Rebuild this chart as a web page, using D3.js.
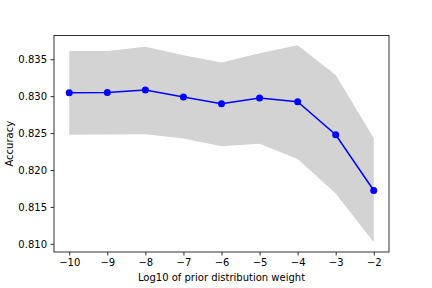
<!DOCTYPE html>
<html>
<head>
<meta charset="utf-8">
<script src="https://cdn.jsdelivr.net/npm/d3@7"></script>
<style>
  html, body { margin: 0; padding: 0; background: #fff; }
  svg { display: block; font-family: "DejaVu Sans", sans-serif; }
</style>
</head>
<body>
<div id="chart"></div>
<script>
// ── Data ──
const logWeights = [-10, -9, -8, -7, -6, -5, -4, -3, -2];
const meanAcc  = [0.83046, 0.83050, 0.83083, 0.82989, 0.82898, 0.82975, 0.82925, 0.82477, 0.81723];
const upperAcc = [0.83612, 0.83612, 0.83670, 0.83554, 0.83454, 0.83581, 0.83688, 0.83285, 0.82431];
const lowerAcc = [0.82477, 0.82480, 0.82485, 0.82427, 0.82320, 0.82356, 0.82149, 0.81683, 0.81023];
const yTicks = [0.810, 0.815, 0.820, 0.825, 0.830, 0.835];

const W = 432, H = 288;
const margin = { top: 35.5, right: 43, bottom: 36, left: 54 };
const width  = W - margin.left - margin.right;
const height = H - margin.top - margin.bottom;

const data = logWeights.map((w, i) => ({
  w, mean: meanAcc[i], hi: upperAcc[i], lo: lowerAcc[i]
}));

const svg = d3.select('#chart')
  .append('svg')
  .attr('width', W)
  .attr('height', H)
  .append('g')
  .attr('transform', `translate(${margin.left},${margin.top})`);

// matplotlib-style 5% margins
const xExt = d3.extent(logWeights);
const xPad = (xExt[1] - xExt[0]) * 0.05;
const yMin = d3.min(lowerAcc), yMax = d3.max(upperAcc);
const yPad = (yMax - yMin) * 0.05;

const x = d3.scaleLinear()
  .domain([xExt[0] - xPad, xExt[1] + xPad])
  .range([0, width]);

const y = d3.scaleLinear()
  .domain([yMin - yPad, yMax + yPad])
  .range([height, 0]);

// Band
svg.append('path')
  .datum(data)
  .attr('fill', '#d3d3d3')
  .attr('d', d3.area()
    .x(d => x(d.w))
    .y0(d => y(d.lo))
    .y1(d => y(d.hi))
  );

// Line
svg.append('path')
  .datum(data)
  .attr('fill', 'none')
  .attr('stroke', '#0000ff')
  .attr('stroke-width', 1.5)
  .attr('d', d3.line()
    .x(d => x(d.w))
    .y(d => y(d.mean))
  );

// Dots
svg.selectAll('circle')
  .data(data)
  .enter()
  .append('circle')
  .attr('cx', d => x(d.w))
  .attr('cy', d => y(d.mean))
  .attr('r', 3.5)
  .attr('fill', '#0000ff');

// Axes
const xAxis = svg.append('g')
  .attr('transform', `translate(0,${height})`)
  .call(d3.axisBottom(x).tickValues(logWeights).tickFormat(d3.format('d'))
    .tickSize(3.5).tickPadding(3.5));

const yAxis = svg.append('g')
  .call(d3.axisLeft(y).tickValues(yTicks).tickFormat(d3.format('.3f'))
    .tickSize(3.5).tickPadding(3.5));

[xAxis, yAxis].forEach(g => {
  g.select('.domain').remove();
  g.selectAll('line').attr('stroke', '#000').attr('stroke-width', 0.8);
  g.selectAll('text').attr('fill', '#000').style('font-size', '10px')
    .style('font-family', '"DejaVu Sans", sans-serif');
});

// Frame
svg.append('rect')
  .attr('width', width)
  .attr('height', height)
  .attr('fill', 'none')
  .attr('stroke', '#000')
  .attr('stroke-width', 0.8);

// Labels
svg.append('text')
  .attr('x', width / 2)
  .attr('y', height + 29)
  .attr('text-anchor', 'middle')
  .attr('fill', '#000')
  .style('font-size', '10px')
  .text('Log10 of prior distribution weight');

svg.append('text')
  .attr('transform', 'rotate(-90)')
  .attr('x', -height / 2)
  .attr('y', -41)
  .attr('text-anchor', 'middle')
  .attr('fill', '#000')
  .style('font-size', '10px')
  .text('Accuracy');
</script>
</body>
</html>
